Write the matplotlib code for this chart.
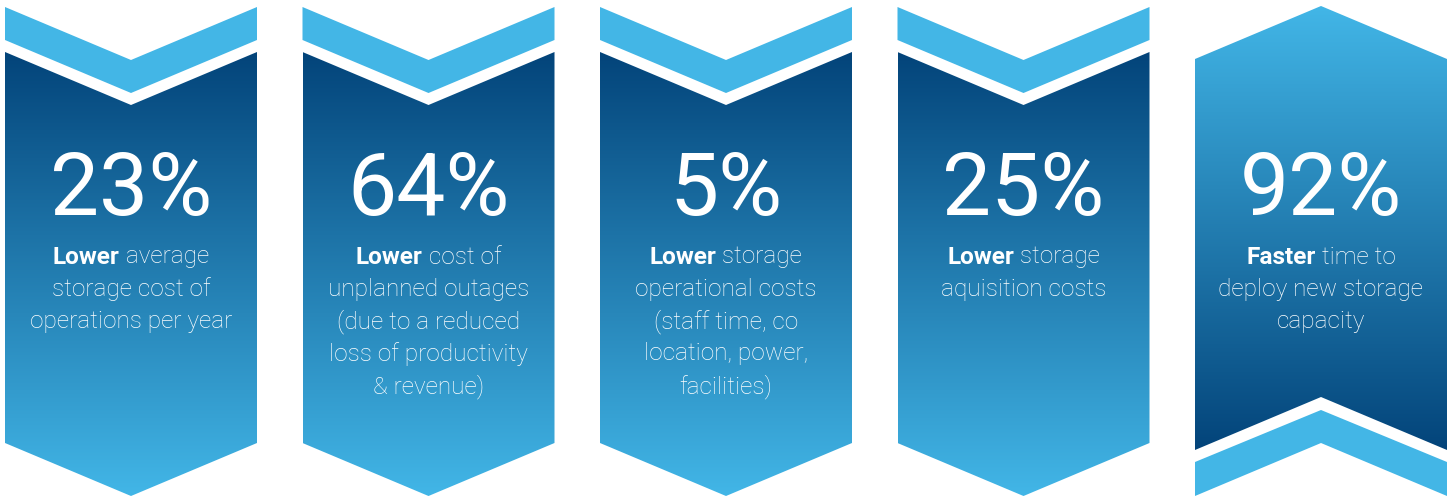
import matplotlib
matplotlib.use("Agg")
import matplotlib.pyplot as plt
import numpy as np
from matplotlib.patches import Polygon

# panel content
numbers = ["23%", "64%", "5%", "25%", "92%"]
bold_words = ["Lower", "Lower", "Lower", "Lower", "Faster"]
first_rest = [" average", " cost of", " storage", " storage", " time to"]
other_lines = [
    ["storage cost of", "operations per year"],
    ["unplanned outages", "(due to a reduced", "loss of productivity", "& revenue)"],
    ["operational costs", "(staff time, co", "location, power,", "facilities)"],
    ["aquisition costs"],
    ["deploy new storage", "capacity"],
]
pointing_up = [False, False, False, False, True]

W, H = 1454, 497
dark = np.array([0x03, 0x44, 0x7a]) / 255
light = np.array([0x42, 0xb6, 0xe7]) / 255
chev = "#43b6e6"

fig = plt.figure(figsize=(W / 100, H / 100), dpi=100)
ax = fig.add_axes([0, 0, 1, 1])
ax.set_xlim(0, W)
ax.set_ylim(H, 0)
ax.axis("off")

x0 = 5
pitch = 297.5
pw = 252
dip = 53

grad = np.linspace(0, 1, 256)[:, None]
cmap = matplotlib.colors.LinearSegmentedColormap.from_list("g", [dark, light])
cmap_r = matplotlib.colors.LinearSegmentedColormap.from_list("g", [light, dark])

renderer = fig.canvas.get_renderer()
fam = ["Roboto", "DejaVu Sans"]
body_size = 17.6

for i in range(len(numbers)):
    L = x0 + i * pitch
    R = L + pw
    C = (L + R) / 2
    if not pointing_up[i]:
        top_chev = [(L, 7), (C, 7 + dip), (R, 7), (R, 40), (C, 40 + dip), (L, 40)]
        body = [(L, 52), (C, 52 + dip), (R, 52), (R, 443), (C, 496), (L, 443)]
        ax.add_patch(Polygon(top_chev, closed=True, fc=chev, ec="none"))
        cm = cmap
        ytop, ybot = 52, 496
    else:
        body = [(L, 59), (C, 6), (R, 59), (R, 450), (C, 397), (L, 450)]
        bot_chev = [(L, 462), (C, 410), (R, 462), (R, 496), (C, 443), (L, 496)]
        ax.add_patch(Polygon(bot_chev, closed=True, fc=chev, ec="none"))
        cm = cmap_r
        ytop, ybot = 6, 450
    poly = Polygon(body, closed=True, fc="none", ec="none")
    ax.add_patch(poly)
    im = ax.imshow(grad, cmap=cm, aspect="auto", extent=[L, R, ybot, ytop],
                   interpolation="bilinear", zorder=1)
    im.set_clip_path(poly)

    ax.text(C, 191, numbers[i], color="white", fontsize=63, family=fam,
            ha="center", va="center", zorder=3)

    # first line: bold word + regular rest, centred together
    tb = ax.text(0, 257, bold_words[i], color="white", fontsize=body_size,
                 family=fam, fontweight="bold", ha="left", va="center", zorder=3)
    tr = ax.text(0, 257, first_rest[i], color="white", fontsize=body_size,
                 family=fam, fontweight="light", ha="left", va="center", zorder=3)
    wb = tb.get_window_extent(renderer).width
    wr = tr.get_window_extent(renderer).width
    start = C - (wb + wr) / 2
    tb.set_x(start)
    tr.set_x(start + wb)

    for j, line in enumerate(other_lines[i]):
        ax.text(C, 257 + 32.3 * (j + 1), line, color="white", fontsize=body_size,
                family=fam, fontweight="light", ha="center", va="center", zorder=3)

fig.savefig("out.png", dpi=100)
